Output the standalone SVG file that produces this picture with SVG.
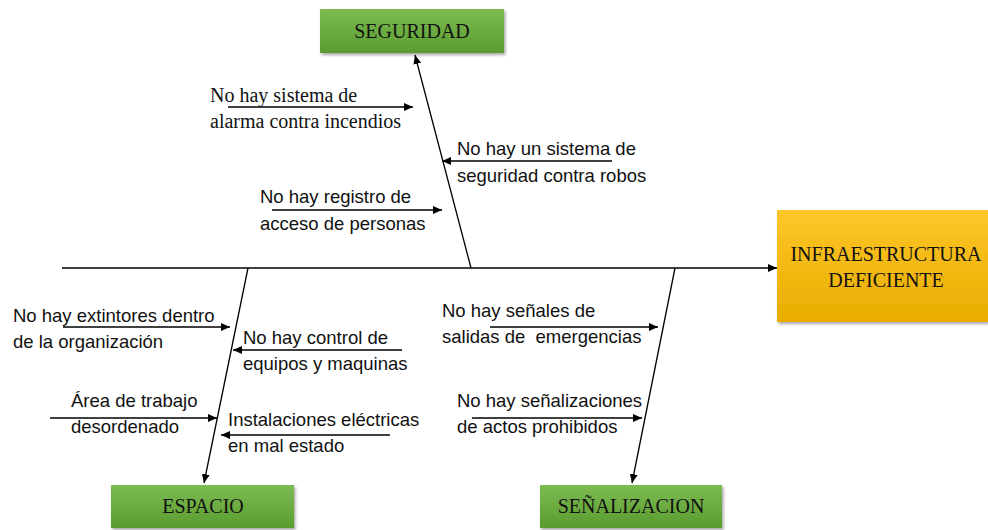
<svg xmlns="http://www.w3.org/2000/svg" width="988" height="530" viewBox="0 0 988 530">
<style>
.ser{font-family:"Liberation Serif","Times New Roman",serif;font-size:20px;fill:#111}
.box{font-family:"Liberation Serif","Times New Roman",serif;font-size:20px;fill:#111;text-anchor:middle}
.sans{font-family:"Liberation Sans",Arial,sans-serif;font-size:18.5px;fill:#111}
.ln{stroke:#000;stroke-width:1.6;fill:none}
.ar{stroke:#000;stroke-width:1.3;fill:none;marker-end:url(#ah)}
</style>
<defs>
<marker id="ah" markerUnits="userSpaceOnUse" markerWidth="10" markerHeight="8" refX="9" refY="4" orient="auto">
<path d="M0,0 L9,4 L0,8 Z" fill="#000"/>
</marker>
<linearGradient id="gg" x1="0" y1="0" x2="0" y2="1">
<stop offset="0" stop-color="#7dbb52"/>
<stop offset="1" stop-color="#5a9c30"/>
</linearGradient>
<linearGradient id="gy" x1="0" y1="0" x2="0" y2="1">
<stop offset="0" stop-color="#fec629"/>
<stop offset="1" stop-color="#e8ad00"/>
</linearGradient>
<filter id="sh" x="-10%" y="-10%" width="125%" height="130%">
<feDropShadow dx="1.5" dy="2" stdDeviation="1.5" flood-color="#000" flood-opacity="0.35"/>
</filter>
</defs>
<g id="connectors">
<line class="ar" x1="62" y1="268" x2="777" y2="268"/>
<line class="ar" x1="471" y1="268" x2="415" y2="55"/>
<line class="ar" x1="248" y1="268" x2="204" y2="483"/>
<line class="ar" x1="675" y1="268" x2="632" y2="483"/>
<line class="ar" x1="228" y1="107" x2="413" y2="107"/>
<line class="ar" x1="612" y1="161" x2="442" y2="161"/>
<line class="ar" x1="272" y1="210" x2="442" y2="210"/>
<line class="ar" x1="63" y1="327" x2="230" y2="327"/>
<line class="ar" x1="402" y1="350" x2="233" y2="350"/>
<line class="ar" x1="50" y1="418" x2="217" y2="418"/>
<line class="ar" x1="390" y1="435" x2="221" y2="435"/>
<line class="ar" x1="490" y1="327" x2="658" y2="327"/>
<line class="ar" x1="472" y1="418" x2="642" y2="418"/>
</g>
<g id="seguridad">
<rect x="320" y="9" width="184" height="44" fill="url(#gg)" filter="url(#sh)"/>
<text class="box" x="412" y="38">SEGURIDAD</text>
</g>
<g id="infraestructura">
<rect x="777" y="210" width="211" height="112" fill="url(#gy)" filter="url(#sh)"/>
<text class="box" x="886" y="261">INFRAESTRUCTURA</text>
<text class="box" x="886" y="287">DEFICIENTE</text>
</g>
<g id="espacio">
<rect x="111" y="485" width="183" height="43" fill="url(#gg)" filter="url(#sh)"/>
<text class="box" x="203" y="513">ESPACIO</text>
</g>
<g id="senalizacion">
<rect x="540" y="485" width="182" height="43" fill="url(#gg)" filter="url(#sh)"/>
<text class="box" x="631" y="513">SEÑALIZACION</text>
</g>
<g id="cause-alarma">
<text class="ser" x="210" y="102">No hay sistema de</text>
<text class="ser" x="210" y="128">alarma contra incendios</text>
</g>
<g id="cause-robos">
<text class="sans" x="457" y="155">No hay un sistema de</text>
<text class="sans" x="457" y="182">seguridad contra robos</text>
</g>
<g id="cause-registro">
<text class="sans" x="260" y="203">No hay registro de</text>
<text class="sans" x="260" y="230">acceso de personas</text>
</g>
<g id="cause-extintores">
<text class="sans" x="13" y="322">No hay extintores dentro</text>
<text class="sans" x="13" y="348">de la organización</text>
</g>
<g id="cause-control">
<text class="sans" x="243" y="344">No hay control de</text>
<text class="sans" x="243" y="370">equipos y maquinas</text>
</g>
<g id="cause-area">
<text class="sans" x="71" y="407">Área de trabajo</text>
<text class="sans" x="71" y="433">desordenado</text>
</g>
<g id="cause-instalaciones">
<text class="sans" x="228" y="426">Instalaciones eléctricas</text>
<text class="sans" x="228" y="452">en mal estado</text>
</g>
<g id="cause-salidas">
<text class="sans" x="442" y="317">No hay señales de</text>
<text class="sans" x="442" y="343" style="white-space:pre">salidas de  emergencias</text>
</g>
<g id="cause-actos">
<text class="sans" x="457" y="407">No hay señalizaciones</text>
<text class="sans" x="457" y="433">de actos prohibidos</text>
</g>
</svg>
